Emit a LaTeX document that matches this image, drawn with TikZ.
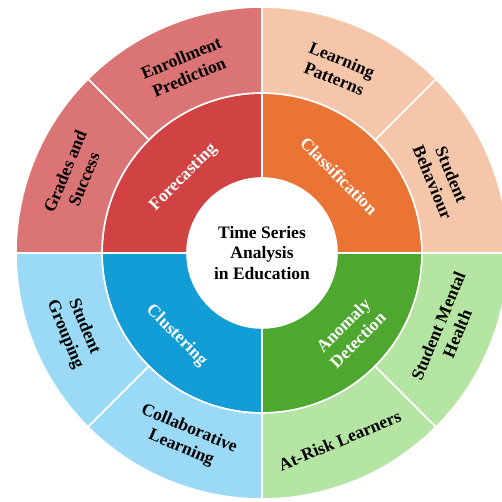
\documentclass[tikz,border=0pt]{standalone}
\usepackage{fontspec}
\setmainfont{Liberation Serif}
\definecolor{fcdark}{HTML}{D14343}
\definecolor{fclight}{HTML}{DB7474}
\definecolor{cldark}{HTML}{EA7433}
\definecolor{cllight}{HTML}{F6C6AB}
\definecolor{cudark}{HTML}{139DD6}
\definecolor{culight}{HTML}{9BDAF7}
\definecolor{addark}{HTML}{4EA72E}
\definecolor{adlight}{HTML}{B5E5A2}

% ring segment: start, end, inner radius, outer radius, colour
\newcommand{\ringseg}[5]{%
\path[fill=#5,draw=white,line width=1.6pt] (#1:#3) arc[start angle=#1,end angle=#2,radius=#3]
  -- (#2:#4) arc[start angle=#2,end angle=#1,radius=#4] -- cycle;}

\begin{document}
\begin{tikzpicture}[x=1pt,y=1pt,
  lbl/.style={font=\bfseries\fontsize{17.5}{20.5}\selectfont,align=center,text=black},
  wlbl/.style={lbl,text=white}]
\useasboundingbox (-262,-249) rectangle (239,253);

\ringseg{0}{90}{75}{160}{cldark}
\ringseg{90}{180}{75}{160}{fcdark}
\ringseg{180}{270}{75}{160}{cudark}
\ringseg{270}{360}{75}{160}{addark}

\ringseg{0}{45}{160}{246}{cllight}
\ringseg{45}{90}{160}{246}{cllight}
\ringseg{90}{135}{160}{246}{fclight}
\ringseg{135}{180}{160}{246}{fclight}
\ringseg{180}{225}{160}{246}{culight}
\ringseg{225}{270}{160}{246}{culight}
\ringseg{270}{315}{160}{246}{adlight}
\ringseg{315}{360}{160}{246}{adlight}

\node[lbl] (center) at (0,0) {Time Series\\Analysis\\in Education};

\node[wlbl,rotate=45] (forecast) at (136:109) {Forecasting};
\node[wlbl,rotate=-45] (classif) at (45:109) {Classification};
\node[wlbl,rotate=-45] (cluster) at (224:119) {Clustering};
\node[wlbl,rotate=45] (anomaly) at (318:119) {Anomaly\\Detection};

\node[lbl,rotate=22.5] (enroll) at (112.5:201) {Enrollment\\Prediction};
\node[lbl,rotate=67.5] (grades) at (157.5:203) {Grades and\\Success};
\node[lbl,rotate=-22.5] (patterns) at (67.5:199) {Learning\\Patterns};
\node[lbl,rotate=-67.5] (behaviour) at (22.5:195) {Student\\Behaviour};
\node[lbl,rotate=-67.5] (grouping) at (202.5:203) {Student\\Grouping};
\node[lbl,rotate=-22.5] (collab) at (247.5:201) {Collaborative\\Learning};
\node[lbl,rotate=22.5] (atrisk) at (292.5:203) {At-Risk Learners};
\node[lbl,rotate=67.5] (mental) at (337.5:201) {Student Mental\\Health};

\end{tikzpicture}
\end{document}
